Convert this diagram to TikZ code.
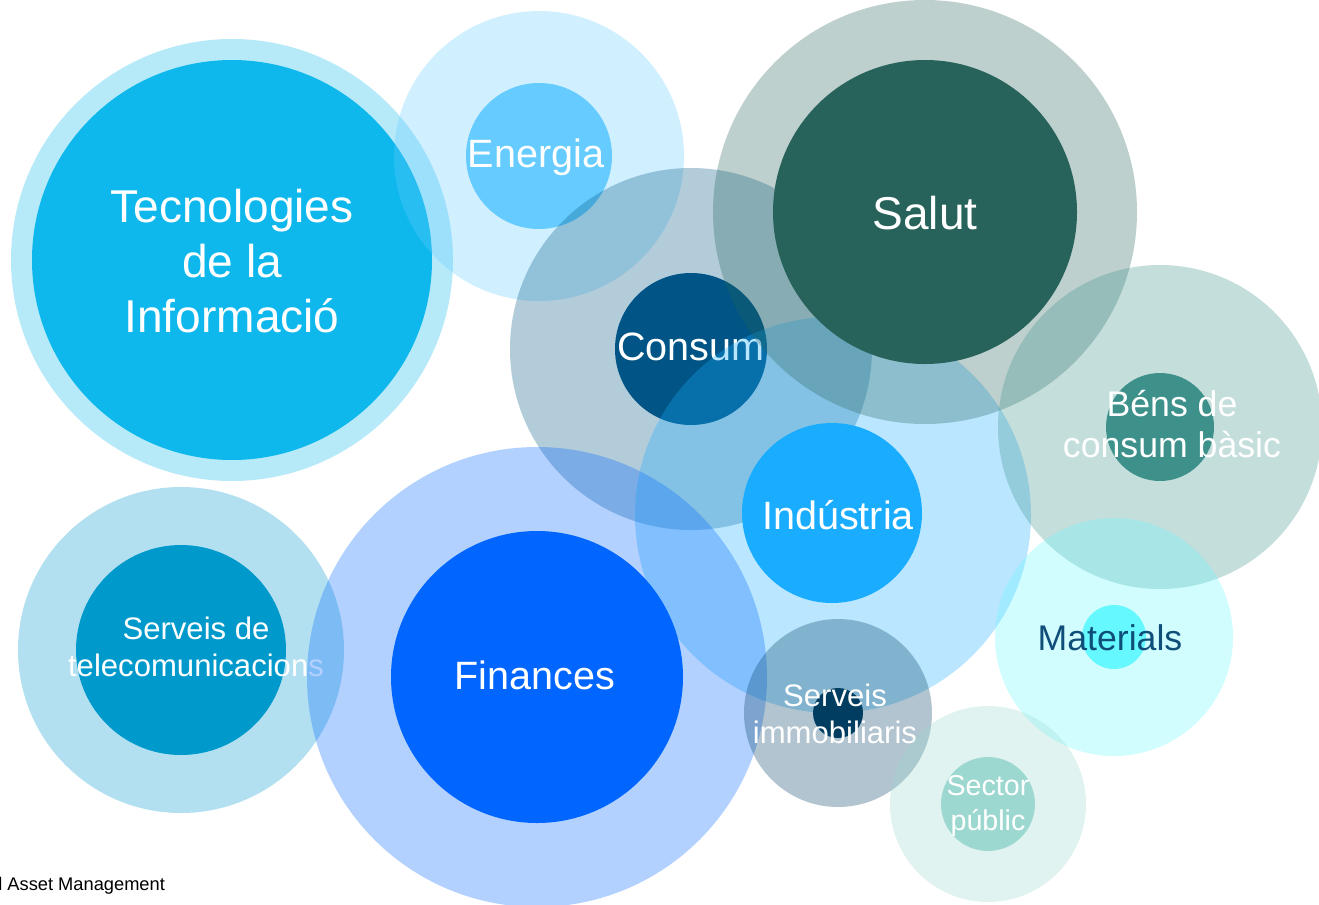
\documentclass[tikz,border=0pt]{standalone}
\usepackage{fontspec}
\setmainfont{Liberation Sans}
\usepackage{xcolor}
\usepackage{tikz}

\definecolor{tecblue}{HTML}{0EB8EC}
\definecolor{energiablue}{HTML}{66CCFF}
\definecolor{consumblue}{HTML}{005586}
\definecolor{salutgreen}{HTML}{27635A}
\definecolor{bensteal}{HTML}{3D918A}
\definecolor{industriablue}{HTML}{1AADFF}
\definecolor{materialscyan}{HTML}{66F8FF}
\definecolor{materialstext}{HTML}{0E4E79}
\definecolor{telecomblue}{HTML}{0099CC}
\definecolor{financesblue}{HTML}{0066FF}
\definecolor{immoblue}{HTML}{003D61}
\definecolor{sectorteal}{HTML}{9CD8D0}

\begin{document}
\begin{tikzpicture}[x=0.02cm, y=-0.02cm,
    halo/.style={fill=#1, fill opacity=0.3},
    core/.style={fill=#1},
    sectortext/.style={text=white, align=center, inner sep=0pt}]
    \useasboundingbox (0,0) rectangle (1319,904);

    \coordinate (Tec) at (232,260);
    \coordinate (Ene) at (539,156);
    \coordinate (Con) at (691,349);
    \coordinate (Ind) at (833,515);
    \coordinate (Sal) at (925,212);
    \coordinate (Ben) at (1160,427);
    \coordinate (Mat) at (1114,637);
    \coordinate (Tel) at (181,650);
    \coordinate (Fin) at (537,677);
    \coordinate (Imm) at (838,713);
    \coordinate (Sec) at (988,804);

    % Tecnologies de la Informacio
    \fill[halo=tecblue] (Tec) circle (221);
    \fill[core=tecblue] (Tec) circle (200);
    \node[sectortext, font=\fontsize{26.2}{31.2}\selectfont] (tecText) at (232,261) {Tecnologies\\de la\\Informació};

    % Energia
    \fill[halo=energiablue] (Ene) circle (145);
    \fill[core=energiablue] (Ene) circle (73);
    \node[sectortext, font=\fontsize{22.5}{27}\selectfont] (eneText) at (536,157) {Energia};

    % Consum
    \fill[halo=consumblue] (Con) circle (181);
    \fill[core=consumblue] (Con) circle (76);
    \node[sectortext, font=\fontsize{22.5}{27}\selectfont] (conText) at (691,347) {Consum};

    % Industria
    \fill[halo=industriablue] (Ind) circle (198);
    \fill[core=industriablue] (832,513) circle (90);
    \node[sectortext, font=\fontsize{22.5}{27}\selectfont] (indText) at (838,515) {Indústria};

    % Salut
    \fill[halo=salutgreen] (Sal) circle (212);
    \fill[core=salutgreen] (Sal) circle (152);
    \node[sectortext, font=\fontsize{26.2}{31}\selectfont] (salText) at (925,213) {Salut};

    % Bens de consum basic
    \fill[halo=bensteal] (Ben) circle (162);
    \fill[core=bensteal] (Ben) circle (54);
    \node[sectortext, font=\fontsize{20.3}{23.8}\selectfont] (benText) at (1172,424) {Béns de\\consum bàsic};

    % Materials
    \fill[halo=materialscyan] (Mat) circle (119);
    \fill[core=materialscyan] (Mat) circle (32);
    \node[sectortext, text=materialstext, font=\fontsize{20.3}{23.8}\selectfont] (matText) at (1110,638) {Materials};

    % Serveis de telecomunicacions
    \fill[halo=telecomblue] (Tel) circle (163);
    \fill[core=telecomblue] (Tel) circle (105);
    \node[sectortext, font=\fontsize{17.7}{20.7}\selectfont] (telText) at (196,647) {Serveis de\\telecomunicacions};

    % Finances
    \fill[halo=financesblue] (Fin) circle (230);
    \fill[core=financesblue] (Fin) circle (146);
    \node[sectortext, font=\fontsize{22.5}{27}\selectfont] (finText) at (535,675) {Finances};

    % Serveis immobiliaris
    \fill[halo=immoblue] (Imm) circle (94);
    \fill[core=immoblue] (Imm) circle (25);
    \node[sectortext, font=\fontsize{17.7}{21}\selectfont] (immText) at (835,714) {Serveis\\immobiliaris};

    % Sector public
    \fill[halo=sectorteal] (Sec) circle (98);
    \fill[core=sectorteal] (Sec) circle (47);
    \node[sectortext, font=\fontsize{16.3}{19.5}\selectfont] (secText) at (988,806) {Sector\\públic};

    \node[anchor=west, inner sep=0pt, font=\fontsize{10.4}{12}\selectfont] (source) at (-2,886) {l Asset Management};
\end{tikzpicture}
\end{document}
